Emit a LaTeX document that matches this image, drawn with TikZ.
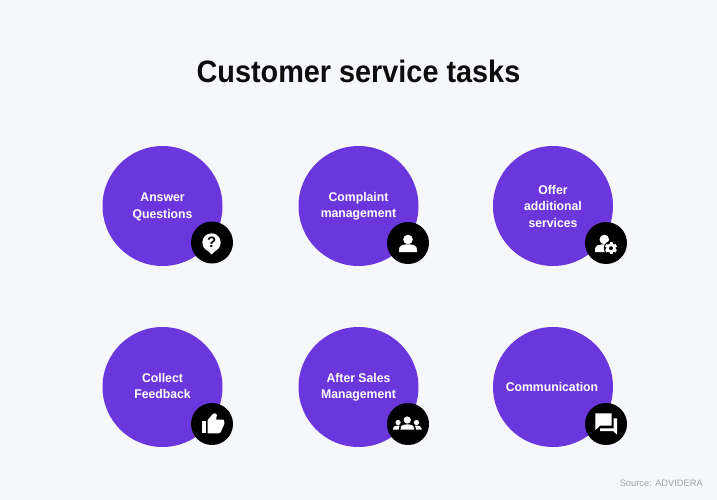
\documentclass[tikz,border=0pt]{standalone}
\usepackage{fontspec}
\setmainfont{Liberation Sans}
\newfontfamily\titlefont[FakeStretch=0.93]{Liberation Sans}
\newfontfamily\labfont[FakeStretch=0.97]{Liberation Sans}
\definecolor{bgc}{HTML}{F6F7FB}
\definecolor{purp}{HTML}{6C36DD}
\definecolor{srcc}{HTML}{9EA3A8}
\tikzset{
  disc/.style={circle,fill=purp,draw=none,minimum size=120pt,inner sep=0pt},
  badge/.style={circle,fill=black,draw=none,minimum size=42pt,inner sep=0pt},
  lab/.style={text=white,align=center,font=\labfont\fontsize{12.6pt}{16.5pt}\selectfont\bfseries,inner sep=0pt},
  ink/.style={fill=white,draw=none}
}
\begin{document}
\begin{tikzpicture}[x=1pt,y=-1pt]
\useasboundingbox (0,0) rectangle (717,500);
\fill[bgc] (0,0) rectangle (717,500);
\node[font=\titlefont\fontsize{31pt}{36pt}\selectfont\bfseries,inner sep=0pt,text=black!95] (title) at (358.5,71) {Customer service tasks};
\node[disc] (c1) at (162.5,206) {};
\node[disc] (c2) at (358.5,206) {};
\node[disc] (c3) at (553,206) {};
\node[disc] (c4) at (162.5,387) {};
\node[disc] (c5) at (358.5,387) {};
\node[disc] (c6) at (553,387) {};
\node[lab] (t1) at (162.5,207) {Answer\\Questions};
\node[lab] (t2) at (358.5,206.5) {Complaint\\management};
\node[lab] (t3) at (553,206) {Offer\\additional\\services};
\node[lab] (t4) at (162.5,386) {Collect\\Feedback};
\node[lab] (t5) at (358.5,387.5) {After Sales\\Management};
\node[lab] (t6) at (552,387) {Communication};
\node[badge] (b1) at (212,242.5) {};
\node[badge] (b2) at (408,243) {};
\node[badge] (b3) at (606,243) {};
\node[badge] (b4) at (212,424) {};
\node[badge] (b5) at (408,424) {};
\node[badge] (b6) at (606,424) {};
% question bubble
\fill[ink] (211.5,242.5) circle (9.2);
\fill[ink] (207,250) -- (211.7,254.5) -- (216,250) -- cycle;
\node[font=\fontsize{15pt}{15pt}\selectfont\bfseries,text=black,inner sep=0pt] (q) at (211.7,242.7) {?};
% person
\fill[ink] (408,239.5) circle (4.8);
\fill[ink] (399,252) -- (399,249.5) .. controls (399,245.5) and (403,244.3) .. (408,244.3) .. controls (413,244.3) and (417,245.5) .. (417,249.5) -- (417,252) -- cycle;
% person + gear
\fill[ink] (604.3,239.5) circle (4.8);
\fill[ink] (595,252) -- (595,249.5) .. controls (595,245.5) and (599,244.3) .. (604,244.3) .. controls (605.5,244.3) and (606.5,244.4) .. (607.5,244.8) -- (605.5,252) -- cycle;
\fill[black] (611,248.2) circle (7.2);
\foreach \a in {0,60,...,300}{\fill[ink,shift={(611,248.2)},rotate=\a] (-1.5,-6) rectangle (1.5,0);}
\fill[ink] (611,248.2) circle (4.9);
\fill[black] (611,248.2) circle (2);
% thumb
\fill[ink] (201.7,420.7) rectangle (206,433.3);
\fill[ink] (207.7,433.3) -- (207.7,420) -- (212.8,414) .. controls (213.8,412.7) and (216.9,412.9) .. (216.9,415) -- (216,419.5) -- (222.5,419.5) .. controls (223.8,419.5) and (224.5,420.5) .. (224.3,422) -- (224.3,424) -- (220.8,432) .. controls (220.4,432.9) and (219.8,433.3) .. (219,433.3) -- cycle;
% group
\fill[ink] (407.3,420) circle (3.6);
\fill[ink] (398,422.5) circle (2.6);
\fill[ink] (416.5,422.5) circle (2.6);
\fill[ink] (400.7,429.5) -- (400.7,428) .. controls (400.7,425.3) and (404,424.4) .. (407.3,424.4) .. controls (410.6,424.4) and (413.9,425.3) .. (413.9,428) -- (413.9,429.5) -- cycle;
\fill[ink] (393,429.5) -- (393,428.2) .. controls (393,426.2) and (395.5,425.6) .. (399.7,425.6) .. controls (399.2,426.3) and (398.8,427.2) .. (398.8,428) -- (398.8,429.5) -- cycle;
\fill[ink] (421.5,429.5) -- (421.5,428.2) .. controls (421.5,426.2) and (419,425.6) .. (414.9,425.6) .. controls (415.4,426.3) and (415.8,427.2) .. (415.8,428) -- (415.8,429.5) -- cycle;
% chat
\fill[ink] (595.3,413.3) -- (611.7,413.3) -- (611.7,425.7) -- (600,425.7) -- (595.3,430.3) -- cycle;
\fill[ink] (600,428.3) -- (613.7,428.3) -- (613.7,418.3) -- (617,418.3) -- (617,434.5) -- (613,431) -- (600,431) -- cycle;
\node[font=\fontsize{9.3pt}{11pt}\selectfont,text=srcc,inner sep=0pt,anchor=east] (src) at (703,483) {Source: ADVIDERA};
\end{tikzpicture}
\end{document}
